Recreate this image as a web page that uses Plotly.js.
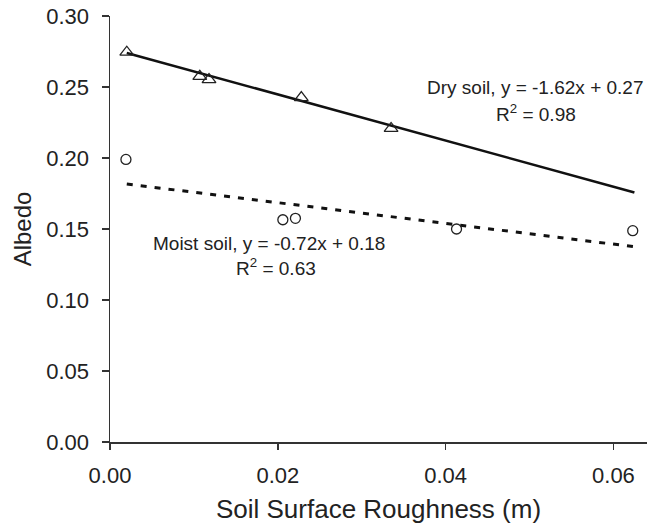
<!DOCTYPE html>
<html>
<head>
<meta charset="utf-8">
<script src="https://cdn.plot.ly/plotly-3.0.1.min.js"></script>
<style>html,body{margin:0;padding:0;background:#fff;}#chart{width:647px;height:529px;}</style>
</head>
<body>
<div id="chart"></div>
<script>
// Data
var dryX = [0.0020, 0.0107, 0.0118, 0.0228, 0.0335];
var dryY = [0.2745, 0.2575, 0.2552, 0.2425, 0.2208];
var moistX = [0.0019, 0.0206, 0.0221, 0.0413, 0.0623];
var moistY = [0.1990, 0.1565, 0.1575, 0.1500, 0.1488];
var fitX = [0.0020, 0.0625];
var dryFitY = [0.2740, 0.1757];
var moistFitY = [0.1817, 0.1375];
var xTicks = [0, 0.02, 0.04, 0.06];
var dryLabel = "Dry soil, y = -1.62x + 0.27";
var dryR2 = "R<sup>2</sup> = 0.98";
var moistLabel = "Moist soil, y = -0.72x + 0.18";
var moistR2 = "R<sup>2</sup> = 0.63";

var FONT = "Liberation Sans, Arial, Helvetica, sans-serif";
var traces = [
  {x: fitX, y: dryFitY, mode: "lines", line: {color: "#111", width: 2.5}, showlegend: false, hoverinfo: "skip"},
  {x: fitX, y: moistFitY, mode: "lines", line: {color: "#111", width: 3, dash: "6px,8px"}, showlegend: false, hoverinfo: "skip"},
  {x: dryX, y: dryY, mode: "markers", marker: {symbol: "triangle-up-open", size: 12, color: "#222", line: {width: 1.3, color: "#222"}}, showlegend: false, cliponaxis: false},
  {x: moistX, y: moistY, mode: "markers", marker: {symbol: "circle-open", size: 10, color: "#222", line: {width: 1.3, color: "#222"}}, showlegend: false, cliponaxis: false}
];

var layout = {
  width: 647, height: 529,
  margin: {l: 110, r: 0, t: 16, b: 87},
  paper_bgcolor: "#fff", plot_bgcolor: "#fff",
  font: {family: FONT, color: "#222", size: 21},
  showlegend: false,
  xaxis: {
    range: [0, 0.064], tickvals: xTicks, tickformat: ".2f",
    showgrid: false, zeroline: false, showline: true, linecolor: "#333", linewidth: 1.5,
    ticks: "outside", ticklen: 6, tickwidth: 1.5, tickcolor: "#333",
    ticklabelstandoff: 7,
    tickfont: {size: 22, family: FONT, color: "#222"},
    title: {text: "Soil Surface Roughness (m)", font: {size: 26, family: FONT, color: "#222"}, standoff: 13}
  },
  yaxis: {
    range: [0, 0.30], dtick: 0.05, tick0: 0, tickformat: ".2f",
    showgrid: false, zeroline: false, showline: true, linecolor: "#333", linewidth: 1.5,
    ticks: "outside", ticklen: 7, tickwidth: 1.5, tickcolor: "#333",
    ticklabelstandoff: 8,
    tickfont: {size: 22, family: FONT, color: "#222"},
    title: {text: "Albedo", font: {size: 24, family: FONT, color: "#222"}, standoff: 8}
  },
  annotations: [
    {x: 0.0507, y: 0.250, xref: "x", yref: "y", text: dryLabel, showarrow: false, font: {size: 19, family: FONT, color: "#222"}},
    {x: 0.0508, y: 0.2317, xref: "x", yref: "y", text: dryR2, showarrow: false, font: {size: 19, family: FONT, color: "#222"}},
    {x: 0.0189, y: 0.1401, xref: "x", yref: "y", text: moistLabel, showarrow: false, font: {size: 19, family: FONT, color: "#222"}},
    {x: 0.0198, y: 0.1235, xref: "x", yref: "y", text: moistR2, showarrow: false, font: {size: 19, family: FONT, color: "#222"}}
  ]
};
Plotly.newPlot("chart", traces, layout, {displayModeBar: false, staticPlot: true});
</script>
</body>
</html>
